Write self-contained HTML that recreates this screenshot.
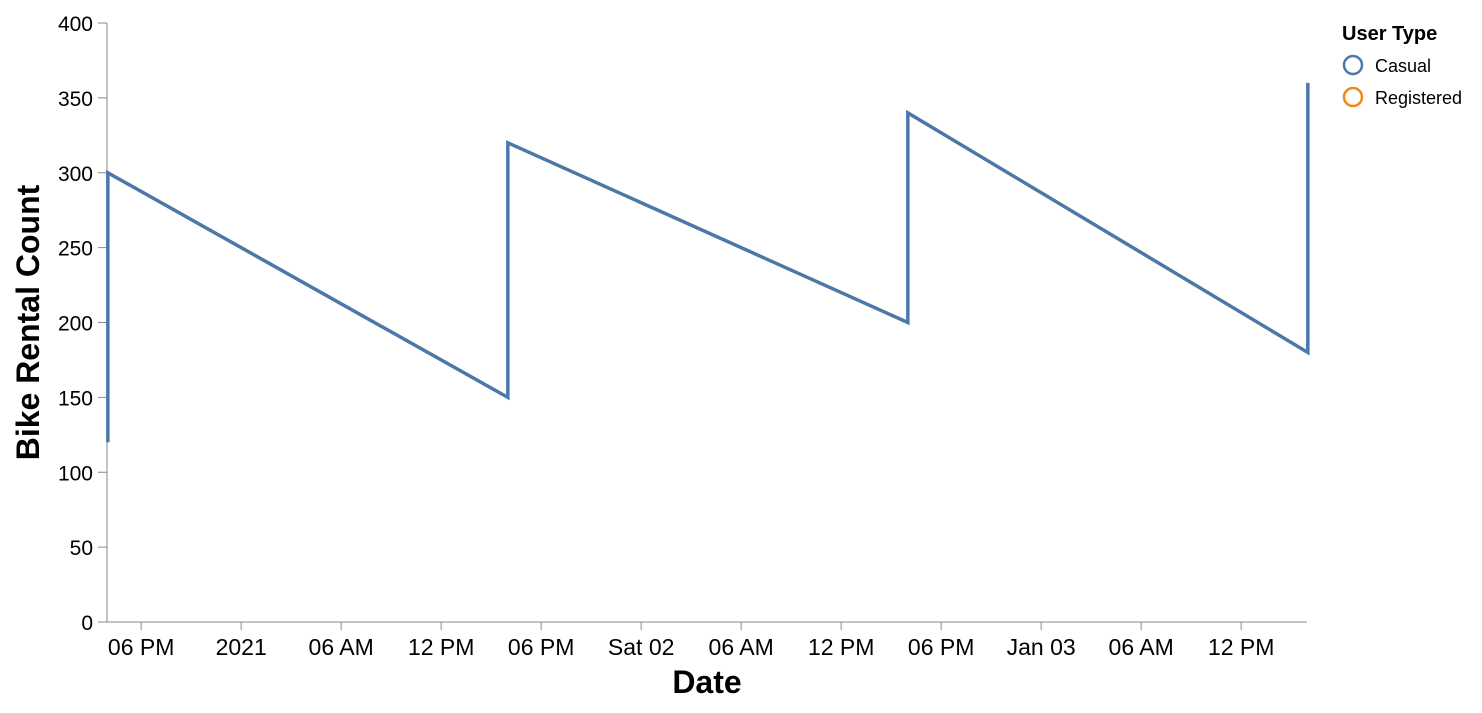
<!DOCTYPE html>
<html><head><meta charset="utf-8"><style>
body{margin:0;background:#fff;}
svg{font-family:"Liberation Sans",Arial,sans-serif;}
</style></head><body>
<svg id="chart" width="1482" height="708"></svg>
<script>
const times = ["2020-12-31T16:00","2020-12-31T16:00","2021-01-01T16:00","2021-01-01T16:00","2021-01-02T16:00","2021-01-02T16:00","2021-01-03T16:00","2021-01-03T16:00"];
const counts = [120,300,150,320,200,340,180,360];
const yTicks = [0,50,100,150,200,250,300,350,400];
const xTickTimes = ["2020-12-31T18:00","2021-01-01T00:00","2021-01-01T06:00","2021-01-01T12:00","2021-01-01T18:00","2021-01-02T00:00","2021-01-02T06:00","2021-01-02T12:00","2021-01-02T18:00","2021-01-03T00:00","2021-01-03T06:00","2021-01-03T12:00"];
const xTickLabels = ["06 PM","2021","06 AM","12 PM","06 PM","Sat 02","06 AM","12 PM","06 PM","Jan 03","06 AM","12 PM"];
const legendLabels = ["Casual","Registered"];
const legendColors = ["#4c78a8","#f58518"];

const NS="http://www.w3.org/2000/svg";
const svg=document.getElementById('chart');
const X0=107,X1=1307,Y0=622,Y1=23;
const tMin=new Date("2020-12-31T15:57").getTime(), tMax=new Date("2021-01-03T15:57").getTime();
const x=t=>X0+(new Date(t).getTime()-tMin)/(tMax-tMin)*(X1-X0);
const y=v=>Y0-v/400*(Y0-Y1);
function mk(tag,attrs,parent){const e=document.createElementNS(NS,tag);for(const k in attrs)e.setAttribute(k,attrs[k]);(parent||svg).appendChild(e);return e;}

const ya=mk('g',{});


mk('line',{x1:X0,x2:X0,y1:Y1,y2:Y0,stroke:'#888'},ya);
yTicks.forEach(v=>{
  mk('line',{x1:X0-9,x2:X0,y1:y(v),y2:y(v),stroke:'#888'},ya);
  const t=mk('text',{x:X0-14,y:y(v)+8,'text-anchor':'end','font-size':21,fill:'#000'},ya);
  t.textContent=v;
  
  
});
const yt=mk('text',{transform:`translate(39,${(Y0+Y1)/2}) rotate(-90)`,'text-anchor':'middle','font-size':32,'font-weight':'bold'});
yt.textContent="Bike Rental Count";



const xa=mk('g',{});


mk('line',{x1:X0,x2:X1,y1:Y0,y2:Y0,stroke:'#888'},xa);
xTickTimes.forEach((tt,i)=>{
  const px=x(tt);
  mk('line',{x1:px,x2:px,y1:Y0,y2:Y0+8,stroke:'#888'},xa);
  const t=mk('text',{x:px,y:Y0+33,'text-anchor':'middle','font-size':23},xa);
  t.textContent=xTickLabels[i];
  
  
});
const xt=mk('text',{x:(X0+X1)/2,y:693,'text-anchor':'middle','font-size':32,'font-weight':'bold'});
xt.textContent="Date";



const d=times.map((t,i)=>(i?'L':'M')+x(t)+','+y(counts[i])).join(' ');
const ln=mk('path',{d:d,fill:'none',stroke:'#4c78a8','stroke-width':3.5});



const lg=mk('g',{});


const lt=mk('text',{x:1342,y:40,'font-size':20,'font-weight':'bold'},lg);
lt.textContent="User Type";


legendLabels.forEach((l,i)=>{
  const g=mk('g',{},lg);
  
  
  mk('circle',{cx:1353,cy:65+i*32,r:9,fill:'none',stroke:legendColors[i],'stroke-width':2.5},g);
  const t=mk('text',{x:1375,y:72+i*32,'font-size':18},g);
  t.textContent=l;
});
</script>
</body></html>
